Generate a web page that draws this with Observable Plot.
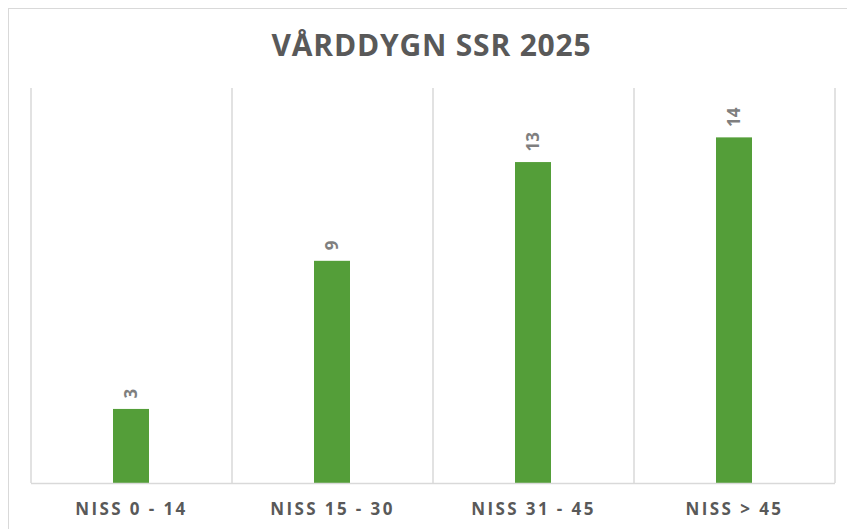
<!DOCTYPE html>
<html>
<head>
<meta charset="utf-8">
<script src="https://cdn.jsdelivr.net/npm/d3@7"></script>
<script src="https://cdn.jsdelivr.net/npm/@observablehq/plot@0.6"></script>
<style>
  html, body { margin: 0; padding: 0; background: #fff; overflow: hidden; }
  #wrap { position: relative; width: 847px; height: 529px; overflow: hidden; }
  #border { position: absolute; left: 8px; top: 8px; width: 900px; height: 600px; border: 1.5px solid #d9d9d9; box-sizing: border-box; }
  #title { position: absolute; left: 8px; width: 847px; top: 27px; text-align: center; font-family: "Open Sans", sans-serif; font-weight: 700; font-size: 30px; line-height: 36px; letter-spacing: 0.8px; color: #595959; }
  #chart { position: absolute; left: 0; top: 0; }
  g[aria-label="x-axis tick label"] text { letter-spacing: 2.4px; }
</style>
</head>
<body>
<div id="wrap">
  <div id="border"></div>
  <div id="title">VÅRDDYGN SSR 2025</div>
  <div id="chart"></div>
</div>
<script>
const categories = ["NISS 0 - 14", "NISS 15 - 30", "NISS 31 - 45", "NISS > 45"];
const values = [3, 9, 13, 14];
const yMax = 16;

const data = categories.map((c, i) => ({category: c, value: values[i]}));

const W = 847, H = 529, mL = 31, mR = 12, mT = 88, mB = 46;
const step = (W - mL - mR) / categories.length;

const plot = Plot.plot({
  width: W,
  height: H,
  marginLeft: mL,
  marginRight: mR,
  marginTop: mT,
  marginBottom: mB,
  style: {fontFamily: "'Open Sans', sans-serif", background: "transparent", overflow: "visible"},
  x: {domain: categories, paddingInner: 0.82, paddingOuter: 0.41, label: null},
  y: {domain: [0, yMax], axis: null},
  marks: [
    Plot.ruleX(categories, {x: d => d, dx: -step / 2, stroke: "#d9d9d9", strokeWidth: 1.5}),
    Plot.ruleX(categories.slice(-1), {x: d => d, dx: step / 2, stroke: "#d9d9d9", strokeWidth: 1.5}),
    Plot.barY(data, {x: "category", y: "value", fill: "#549E39"}),
    Plot.ruleY([0], {stroke: "#d9d9d9", strokeWidth: 1.5}),
    Plot.text(data, {x: "category", y: "value", text: d => String(d.value), rotate: -90, textAnchor: "start", dy: -11, fill: "#7f7f7f", fontWeight: "bold", fontSize: 17}),
    Plot.axisX({tickSize: 0, tickPadding: 19, fontSize: 17, fontWeight: "bold", fill: "#595959", label: null})
  ]
});
document.getElementById("chart").appendChild(plot);
</script>
</body>
</html>
